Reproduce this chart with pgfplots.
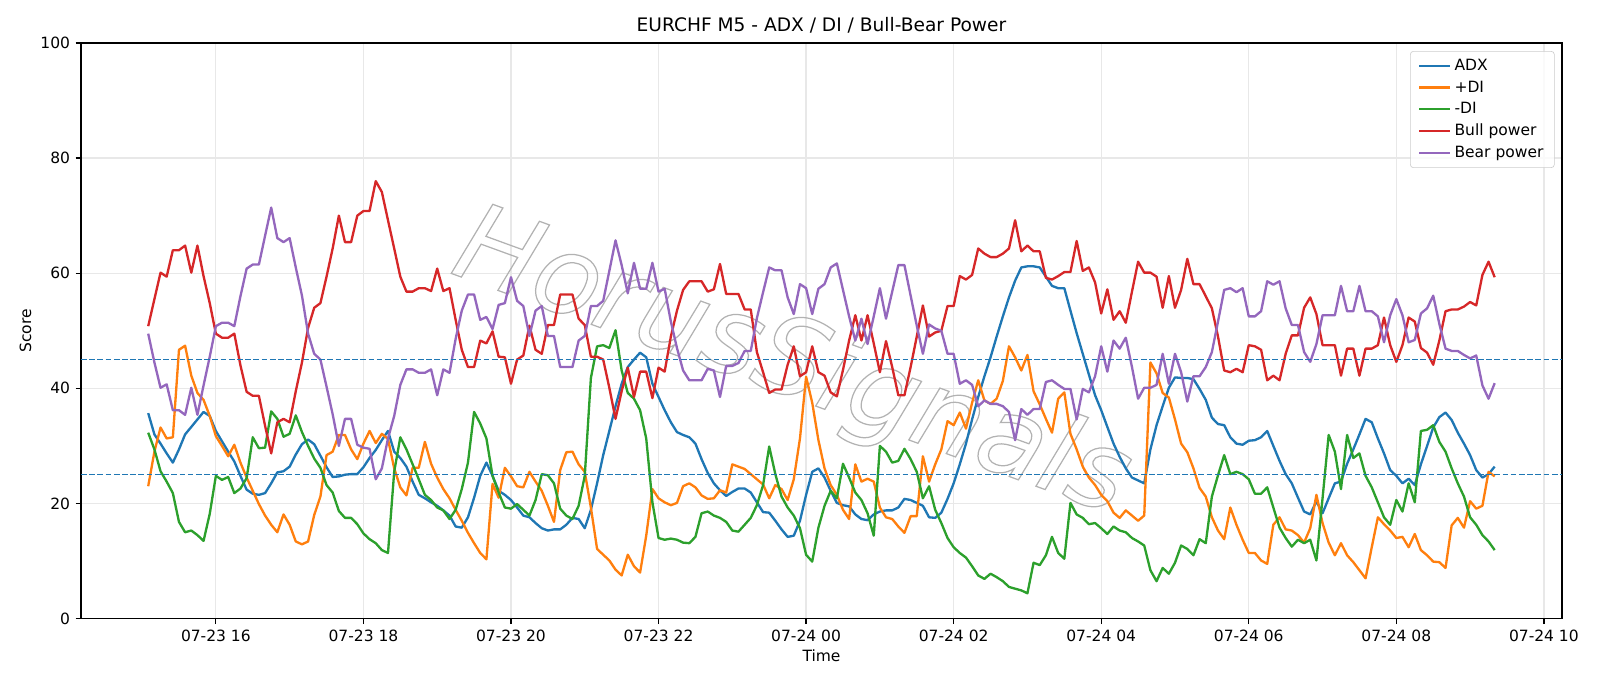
\documentclass[border=0pt]{standalone}
\usepackage{fontspec}
\setmainfont{DejaVu Sans}
\usepackage{pgfplots}
\usepackage{pgfplotstable}
\pgfplotsset{compat=1.18}
\definecolor{tabblue}{HTML}{1F77B4}
\definecolor{taborange}{HTML}{FF7F0E}
\definecolor{tabgreen}{HTML}{2CA02C}
\definecolor{tabred}{HTML}{D62728}
\definecolor{tabpurple}{HTML}{9467BD}
\definecolor{gridgray}{HTML}{E8E8E8}
\pgfplotstableread{
t adx pdi mdi bull bear
15.083 35.7 23.0 32.3 50.8 49.5
15.167 32.0 29.0 29.4 55.5 44.5
15.250 30.4 33.2 25.6 60.1 40.1
15.333 28.7 31.3 23.8 59.4 40.7
15.417 27.1 31.5 21.8 64.0 36.2
15.500 29.4 46.7 16.8 64.0 36.2
15.583 32.0 47.4 15.0 64.8 35.4
15.667 33.3 42.2 15.3 60.1 40.1
15.750 34.6 39.2 14.5 64.8 35.4
15.833 35.9 38.0 13.5 59.5 40.5
15.917 35.2 35.2 18.2 54.8 45.5
16.000 32.6 31.7 24.8 49.5 50.8
16.083 30.8 30.0 24.1 48.8 51.4
16.167 29.0 28.2 24.6 48.8 51.4
16.250 27.3 30.2 21.8 49.5 50.8
16.333 24.8 27.1 22.6 44.0 56.0
16.417 22.4 24.5 24.4 39.4 60.8
16.500 21.7 22.2 31.5 38.7 61.5
16.583 21.5 19.9 29.6 38.7 61.5
16.667 21.8 17.9 29.7 33.5 66.5
16.750 23.5 16.3 36.0 28.7 71.4
16.833 25.4 15.0 34.7 34.1 66.1
16.917 25.6 18.1 31.6 34.7 65.4
17.000 26.4 16.3 32.1 34.1 66.1
17.083 28.5 13.4 35.3 39.5 61.0
17.167 30.3 12.9 32.4 44.5 56.1
17.250 31.1 13.4 30.0 50.5 49.5
17.333 30.3 18.0 27.8 54.0 46.0
17.417 28.3 21.2 26.2 54.8 45.0
17.500 26.3 28.4 23.2 59.4 40.3
17.583 24.6 29.0 21.9 64.3 35.5
17.667 24.7 31.9 18.7 70.0 30.0
17.750 25.0 31.9 17.5 65.4 34.7
17.833 25.1 29.4 17.5 65.4 34.7
17.917 25.1 27.7 16.4 70.0 30.2
18.000 26.3 30.4 14.8 70.8 29.7
18.083 27.9 32.6 13.8 70.8 29.5
18.167 29.3 30.5 13.1 76.0 24.2
18.250 31.0 32.1 11.9 74.1 26.1
18.333 32.6 31.2 11.4 69.2 31.3
18.417 29.0 26.1 25.5 64.3 35.2
18.500 27.9 22.8 31.5 59.4 40.6
18.583 26.4 21.4 29.4 56.8 43.3
18.667 23.8 26.2 26.8 56.8 43.3
18.750 21.5 26.2 24.2 57.4 42.7
18.833 20.9 30.7 21.5 57.4 42.7
18.917 20.2 26.9 20.6 56.9 43.3
19.000 19.6 24.5 19.3 60.8 38.8
19.083 18.8 22.5 18.8 56.9 43.3
19.167 17.9 20.9 17.3 57.4 42.7
19.250 16.0 18.9 18.9 51.9 48.6
19.333 15.8 17.0 22.5 46.7 53.5
19.417 17.6 14.9 27.1 43.7 56.3
19.500 21.0 13.1 35.9 43.7 56.3
19.583 24.8 11.4 33.9 48.3 51.9
19.667 27.1 10.3 31.3 47.8 52.4
19.750 24.8 23.4 24.8 49.9 50.3
19.833 22.2 21.0 21.9 45.5 54.5
19.917 21.5 26.2 19.3 45.4 54.8
20.000 20.6 24.7 19.1 40.8 59.3
20.083 19.3 23.0 19.9 45.0 55.2
20.167 17.9 22.8 18.9 45.7 54.3
20.250 17.6 25.5 17.9 50.9 49.1
20.333 16.6 23.8 20.6 46.7 53.5
20.417 15.7 22.2 25.1 46.0 54.3
20.500 15.3 19.6 24.9 51.0 49.1
20.583 15.5 16.8 23.5 51.0 49.1
20.667 15.5 25.8 19.1 56.3 43.7
20.750 16.3 28.9 17.9 56.3 43.7
20.833 17.5 29.0 17.3 56.3 43.7
20.917 17.3 26.8 19.6 52.1 48.3
21.000 15.7 25.5 24.8 51.0 49.1
21.083 18.9 19.3 41.8 45.5 54.3
21.167 23.5 12.1 47.3 45.5 54.3
21.250 28.4 11.1 47.5 45.0 55.2
21.333 32.6 10.1 47.0 40.1 60.4
21.417 36.9 8.5 50.1 34.7 65.7
21.500 40.8 7.5 43.1 39.5 61.4
21.583 43.7 11.1 39.2 43.6 56.5
21.667 45.0 9.1 38.2 38.5 61.8
21.750 46.2 8.0 36.2 42.9 57.3
21.833 45.4 14.4 31.3 42.9 57.3
21.917 40.8 22.5 20.2 38.3 61.8
22.000 38.5 20.9 14.0 43.6 56.8
22.083 36.2 20.2 13.7 42.9 57.3
22.167 34.1 19.7 13.9 49.0 51.6
22.250 32.4 20.1 13.7 53.5 47.0
22.333 31.9 23.0 13.2 57.1 43.1
22.417 31.5 23.5 13.1 58.6 41.4
22.500 30.4 22.8 14.2 58.6 41.4
22.583 27.7 21.4 18.3 58.6 41.4
22.667 25.3 20.8 18.6 56.8 43.4
22.750 23.5 20.9 17.9 57.2 43.1
22.833 22.3 22.3 17.5 61.6 38.5
22.917 21.3 21.9 16.8 56.4 43.9
23.000 22.0 26.8 15.3 56.4 43.9
23.083 22.6 26.4 15.1 56.4 44.4
23.167 22.6 26.0 16.3 53.7 46.5
23.250 21.9 25.1 17.5 53.7 46.5
23.333 20.2 24.2 19.7 46.3 52.2
23.417 18.5 23.3 23.2 42.8 56.7
23.500 18.4 20.9 29.9 39.2 61.0
23.583 17.0 23.2 25.1 39.8 60.5
23.667 15.5 22.5 21.2 39.8 60.5
23.750 14.2 20.6 19.3 44.1 55.8
23.833 14.4 24.2 17.9 47.3 52.9
23.917 17.0 31.3 15.7 42.1 58.1
24.000 21.5 42.0 11.1 42.8 57.4
24.083 25.5 37.5 9.9 47.3 52.9
24.167 26.1 31.0 15.8 42.8 57.3
24.250 24.5 26.1 19.6 42.2 58.1
24.333 22.2 23.2 22.2 39.3 61.0
24.417 20.1 21.5 20.9 38.6 61.7
24.500 19.7 18.9 26.9 43.2 57.1
24.583 19.5 17.3 24.5 48.3 52.5
24.667 18.1 26.8 21.9 52.7 48.3
24.750 17.3 23.8 20.6 48.3 52.1
24.833 17.1 24.3 18.3 52.7 47.7
24.917 18.1 23.8 14.4 47.8 52.5
25.000 18.6 19.3 30.0 42.8 57.4
25.083 18.8 17.6 29.0 48.2 52.1
25.167 18.8 17.3 27.1 43.7 56.8
25.250 19.3 16.0 27.4 38.8 61.4
25.333 20.8 14.9 29.5 38.8 61.4
25.417 20.6 17.8 27.7 43.7 56.1
25.500 20.1 17.8 25.5 49.0 50.9
25.583 19.6 28.2 20.9 54.4 46.0
25.667 17.6 23.8 23.0 49.0 51.1
25.750 17.5 26.8 18.9 49.7 50.4
25.833 18.4 29.4 16.6 50.0 50.0
25.917 20.8 34.3 14.0 54.3 46.0
26.000 23.5 33.6 12.4 54.3 46.0
26.083 26.8 35.8 11.4 59.5 40.8
26.167 30.4 33.0 10.6 58.9 41.4
26.250 34.6 37.5 9.1 59.7 40.6
26.333 38.5 41.4 7.5 64.3 36.9
26.417 42.1 37.9 6.9 63.4 37.9
26.500 45.4 37.3 7.8 62.8 37.3
26.583 49.0 38.2 7.2 62.8 37.3
26.667 52.5 41.3 6.5 63.4 36.9
26.750 55.8 47.3 5.5 64.3 35.9
26.833 58.7 45.4 5.2 69.2 31.0
26.917 61.0 43.1 4.9 63.8 36.4
27.000 61.2 45.8 4.4 64.8 35.4
27.083 61.2 39.5 9.7 63.8 36.4
27.167 61.0 37.2 9.3 63.8 36.4
27.250 59.4 34.7 11.0 59.2 41.1
27.333 57.8 32.3 14.2 58.9 41.4
27.417 57.4 38.2 11.4 59.5 40.6
27.500 57.4 39.3 10.4 60.2 39.9
27.583 53.5 32.1 20.1 60.2 39.9
27.667 49.6 29.4 18.1 65.6 34.6
27.750 46.0 26.4 17.5 60.4 39.9
27.833 42.4 24.5 16.4 61.0 39.3
27.917 38.8 23.2 16.6 58.4 42.1
28.000 36.2 21.5 15.7 53.0 47.3
28.083 33.3 20.4 14.7 57.2 42.9
28.167 30.4 18.4 16.0 51.9 48.3
28.250 28.1 17.5 15.3 53.4 46.9
28.333 26.1 18.8 15.0 51.4 48.8
28.417 24.5 17.9 14.0 56.8 43.7
28.500 24.0 17.0 13.4 62.0 38.2
28.583 23.5 17.9 12.7 60.1 40.1
28.667 29.4 44.5 8.4 60.1 40.1
28.750 33.6 42.6 6.5 59.4 40.6
28.833 36.9 39.2 8.8 54.0 46.0
28.917 40.1 38.4 7.8 59.5 40.8
29.000 41.9 34.6 9.7 54.0 46.0
29.083 41.8 30.4 12.7 57.1 42.8
29.167 41.8 28.9 12.1 62.5 37.7
29.250 41.6 26.1 11.0 58.1 42.1
29.333 39.9 22.7 13.8 58.1 42.1
29.417 38.0 21.2 13.1 56.0 43.7
29.500 34.9 17.6 21.2 53.9 46.3
29.583 33.8 15.3 24.9 49.0 51.6
29.667 33.6 13.8 28.4 43.1 57.1
29.750 31.5 19.3 25.1 42.8 57.4
29.833 30.4 16.3 25.5 43.4 56.7
29.917 30.2 13.7 25.1 42.8 57.4
30.000 30.9 11.4 24.2 47.5 52.5
30.083 31.0 11.4 21.7 47.3 52.5
30.167 31.5 10.1 21.7 46.7 53.4
30.250 32.6 9.5 22.8 41.4 58.6
30.333 30.0 16.3 19.3 42.2 58.0
30.417 27.4 17.6 15.8 41.4 58.6
30.500 25.1 15.5 14.0 46.0 53.9
30.583 23.5 15.3 12.5 49.2 51.0
30.667 21.0 14.5 13.7 49.2 51.0
30.750 18.6 13.2 13.1 54.0 46.3
30.833 18.1 15.7 13.7 55.8 44.6
30.917 20.4 21.5 10.1 52.9 47.7
31.000 18.3 16.6 20.9 47.5 52.7
31.083 20.9 13.2 31.9 47.5 52.7
31.167 23.5 11.0 29.0 47.5 52.7
31.250 23.8 13.1 22.5 42.2 57.8
31.333 26.9 11.0 31.9 46.9 53.4
31.417 29.4 9.8 27.9 46.9 53.4
31.500 32.0 8.4 28.7 42.2 57.8
31.583 34.7 7.0 24.8 46.9 53.4
31.667 34.1 12.4 22.8 46.9 53.4
31.750 31.3 17.6 20.2 47.5 52.5
31.833 28.7 16.4 17.6 52.3 48.0
31.917 25.8 15.3 16.3 47.5 52.7
32.000 24.8 14.0 20.6 44.6 55.5
32.083 23.5 14.2 18.6 47.5 52.7
32.167 24.3 12.4 23.5 52.3 48.0
32.250 23.2 14.7 20.2 51.6 48.4
32.333 26.8 11.9 32.6 47.0 53.0
32.417 30.0 11.0 32.8 46.2 53.9
32.500 33.2 9.9 33.6 44.1 56.1
32.583 35.0 9.8 30.7 48.3 51.2
32.667 35.8 8.8 29.0 53.4 46.9
32.750 34.5 16.2 26.1 53.7 46.5
32.833 32.3 17.5 23.5 53.7 46.5
32.917 30.4 15.8 21.2 54.2 45.8
33.000 28.4 20.4 17.6 55.0 45.2
33.083 25.8 19.1 16.3 54.4 45.7
33.167 24.5 19.6 14.5 59.7 40.5
33.250 25.1 25.5 13.4 62.0 38.2
33.333 26.4 24.7 11.9 59.3 40.9
}\data
\begin{document}
\begin{tikzpicture}
\path[use as bounding box] (-52.2pt,-43.5pt) rectangle (979.8pt,399pt);
\begin{axis}[
  at={(0,0)}, anchor=south west,
  scale only axis, width=955.3pt, height=371.3pt,
  xmin=14.171, xmax=34.246, ymin=0, ymax=100,
  xtick={16,18,...,34},
  xticklabels={07-23 16,07-23 18,07-23 20,07-23 22,07-24 00,07-24 02,07-24 04,07-24 06,07-24 08,07-24 10},
  ytick={0,20,...,100},
  tick pos=left, tick align=outside,
  major tick length=3.5pt,
  every tick/.style={black, line width=0.8pt},
  axis line style={line width=0.8pt},
  grid=major, grid style={line width=0.8pt, color=gridgray},
  tick label style={font=\fontsize{10}{12}\selectfont},
  /pgf/number format/assume math mode=true,
  title={EURCHF M5 - ADX / DI / Bull-Bear Power},
  every axis title/.style={at={(axis description cs:0.5,1.0304)}, anchor=center, font=\fontsize{12}{14}\selectfont},
  xlabel={Time}, ylabel={Score},
  every axis x label/.style={at={(axis description cs:0.5,-0.0652)}, anchor=center, font=\fontsize{10}{12}\selectfont},
  every axis y label/.style={at={(axis description cs:-0.0375,0.5)}, rotate=90, anchor=center, font=\fontsize{10}{12}\selectfont},
  legend style={at={(axis description cs:0.995,0.986)}, anchor=north east,
    draw=black!20, rounded corners=2pt, fill=white, fill opacity=0.8, text opacity=1,
    font=\fontsize{10}{12}\selectfont, row sep=1.2pt, inner xsep=5pt, inner ysep=3pt,
    /tikz/every even column/.append style={column sep=3pt}},
  legend cell align=left,
  legend image code/.code={\draw[#1, line width=1.5pt] (0pt,0pt) -- (20pt,0pt);},
  every axis plot/.append style={line width=1.5pt, line join=round},
]
\node[rotate=-20, text=black!30, font=\fontsize{70}{70}\selectfont\itshape] at (axis cs:23.8,44) {\special{pdf:literal direct 1 Tr 0.8 w}HorusSignals\special{pdf:literal direct 0 Tr 1 w}};
\addplot[tabblue] table[x=t, y=adx] {\data};
\addlegendentry{ADX}
\addplot[taborange] table[x=t, y=pdi] {\data};
\addlegendentry{+DI}
\addplot[tabgreen] table[x=t, y=mdi] {\data};
\addlegendentry{-DI}
\addplot[tabred] table[x=t, y=bull] {\data};
\addlegendentry{Bull power}
\addplot[tabpurple] table[x=t, y=bear] {\data};
\addlegendentry{Bear power}
\addplot[forget plot, tabblue, line width=1pt, dash pattern=on 3.7pt off 1.6pt] coordinates {(14.171,45) (34.246,45)};
\addplot[forget plot, tabblue, line width=1pt, dash pattern=on 3.7pt off 1.6pt] coordinates {(14.171,25) (34.246,25)};
\end{axis}
\end{tikzpicture}
\end{document}
